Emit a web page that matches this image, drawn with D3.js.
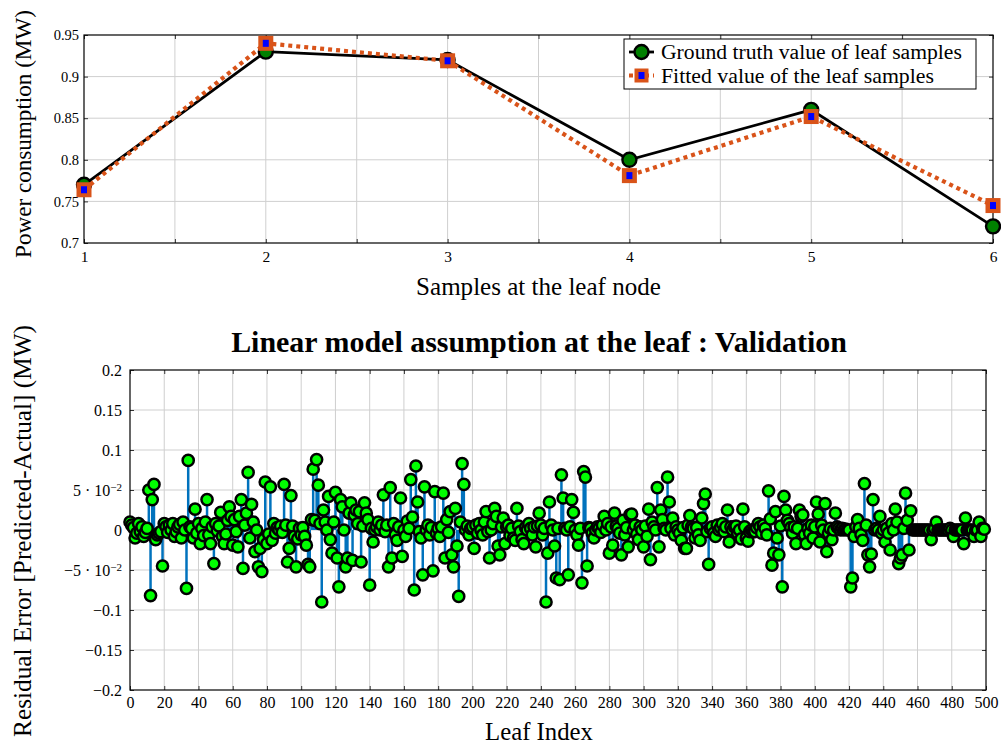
<!DOCTYPE html>
<html><head><meta charset="utf-8">
<script src="https://cdn.jsdelivr.net/npm/d3@7"></script>
<style>
body{margin:0;background:#fff}
svg{display:block}
text{font-family:"Liberation Serif","Times New Roman",serif;fill:#000}
</style>
</head><body><svg id="c" width="1001" height="746"></svg>
<script>
// ---------- data: top chart ----------
const samples = [1, 2, 3, 4, 5, 6];
const groundTruth = [0.770, 0.930, 0.920, 0.800, 0.860, 0.720];
const fitted = [0.764, 0.940, 0.919, 0.781, 0.852, 0.745];
const topXTicks = [1, 1.5, 2, 2.5, 3, 3.5, 4, 4.5, 5, 5.5, 6];
const topXLabels = ["1", "", "2", "", "3", "", "4", "", "5", "", "6"];
const topYTicks = [0.7, 0.75, 0.8, 0.85, 0.9, 0.95];
const topYLabels = ["0.7", "0.75", "0.8", "0.85", "0.9", "0.95"];
const legendLabels = ["Ground truth value of leaf samples", "Fitted value of the leaf samples"];

// ---------- data: bottom chart (residual per leaf index 0..499) ----------
const residuals = [
  0.010, 0.006, 0.003,-0.010,-0.004, 0.008,-0.002, 0.004,-0.008,-0.003,
  0.002, 0.050,-0.082, 0.038, 0.057,-0.012,-0.006,-0.004,-0.002,-0.045,
  0.008, 0.004,-0.003, 0.006, 0.000, 0.008,-0.008,-0.002, 0.004, 0.007,
 -0.010, 0.010, 0.000,-0.073, 0.087, 0.004, 0.002,-0.010, 0.026,-0.004,
  0.008,-0.017, 0.002,-0.007, 0.010, 0.038,-0.006,-0.017, 0.004,-0.042,
  0.008,-0.001, 0.005, 0.022,-0.008,-0.017,-0.005, 0.012, 0.029, 0.017,
 -0.019, 0.013,-0.002,-0.021, 0.017, 0.038,-0.048, 0.006, 0.021, 0.072,
 -0.010, 0.032, 0.010,-0.027, 0.000,-0.046,-0.023,-0.052,-0.012, 0.060,
 -0.017,-0.005, 0.054,-0.013, 0.008,-0.004, 0.003, 0.000, 0.005,-0.003,
  0.057, 0.006,-0.040,-0.023, 0.043, 0.005,-0.008,-0.046,-0.011, 0.002,
 -0.006, 0.003,-0.008,-0.019,-0.043,-0.046, 0.013, 0.076, 0.012, 0.088,
  0.056, 0.008,-0.090, 0.025, 0.010, 0.000, 0.042,-0.012,-0.029, 0.010,
  0.047,-0.035,-0.071, 0.038, 0.029, 0.000,-0.046,-0.035, 0.021, 0.034,
 -0.038, 0.019, 0.025, 0.008, 0.023,-0.040, 0.005, 0.034, 0.021, 0.013,
 -0.069, 0.002,-0.015, 0.000, 0.004, 0.010, 0.000, 0.006, 0.044,-0.002,
  0.006,-0.046, 0.053,-0.035, 0.008,-0.006,-0.013, 0.004, 0.040,-0.033,
  0.000,-0.008, 0.011, 0.002, 0.063, 0.016,-0.075, 0.080, 0.035,-0.002,
 -0.010,-0.056, 0.054, 0.000, 0.006,-0.006, 0.003,-0.051, 0.048,-0.004,
  0.002,-0.008, 0.004, 0.046,-0.035, 0.013,-0.003, 0.023,-0.031,-0.046,
  0.027,-0.020,-0.083, 0.010, 0.083, 0.057, 0.000, 0.005,-0.006, 0.002,
  0.004,-0.023, 0.006,-0.004, 0.008, 0.000,-0.006, 0.010, 0.023,-0.002,
 -0.035, 0.000, 0.008, 0.027, 0.017,-0.020,-0.031, 0.004, 0.015,-0.017,
  0.004, 0.006,-0.007, 0.002,-0.010,-0.013, 0.027, 0.005,-0.002,-0.012,
 -0.017, 0.003, 0.000, 0.008, 0.002,-0.006, 0.004,-0.021, 0.005, 0.021,
  0.006,-0.006, 0.002,-0.090,-0.029, 0.035, 0.006, 0.000,-0.020,-0.060,
  0.002,-0.062, 0.069, 0.040, 0.002, 0.000,-0.056, 0.004, 0.038, 0.022,
  0.000,-0.006,-0.019, 0.002,-0.066, 0.073, 0.066,-0.045, 0.003, 0.002,
 -0.004,-0.010, 0.000, 0.004, 0.002,-0.003, 0.006, 0.017, 0.000, 0.008,
 -0.029, 0.004,-0.019, 0.021, 0.005, 0.002,-0.004,-0.031, 0.012,-0.006,
  0.003,-0.021, 0.019, 0.020, 0.000, 0.006,-0.005,-0.012, 0.004, 0.000,
 -0.021, 0.005,-0.008, 0.026,-0.037, 0.010, 0.004, 0.000, 0.053,-0.021,
  0.025, 0.013, 0.002, 0.000, 0.066, 0.035, 0.002, 0.015,-0.006, 0.004,
  0.000,-0.004,-0.013, 0.003,-0.023,-0.023, 0.006, 0.018, 0.004, 0.002,
 -0.010, 0.003,-0.006,-0.013, 0.015, 0.033, 0.045,-0.002,-0.043, 0.002,
  0.004,-0.004,-0.008, 0.006, 0.000, 0.003, 0.008,-0.002, 0.004, 0.025,
 -0.015, 0.004, 0.000, 0.004, 0.005,-0.004, 0.000,-0.011, 0.026, 0.004,
 -0.010,-0.014,-0.002, 0.000,-0.002,-0.002, 0.003, 0.008, 0.004,-0.004,
  0.006, 0.002,-0.006, 0.049, 0.014,-0.044,-0.029, 0.023,-0.010,-0.031,
  0.005,-0.071, 0.042, 0.025, 0.012, 0.008, 0.003,-0.004, 0.004,-0.017,
  0.002, 0.025, 0.017, 0.019,-0.006,-0.017, 0.002,-0.004, 0.006,-0.010,
  0.004, 0.035, 0.020,-0.015, 0.006, 0.000, 0.033,-0.027,-0.004, 0.002,
 -0.012, 0.000, 0.021, 0.004, 0.002, 0.000, 0.002, 0.000, 0.001, 0.000,
  0.000,-0.071,-0.060,-0.008, 0.004, 0.013, 0.002,-0.006,-0.013, 0.058,
  0.006,-0.031,-0.046,-0.030, 0.038, 0.000, 0.002, 0.000, 0.017,-0.004,
  0.000,-0.015, 0.002,-0.004,-0.025, 0.008, 0.000, 0.026, 0.010,-0.042,
 -0.035,-0.031, 0.002, 0.046, 0.012,-0.025, 0.024, 0.000, 0.000, 0.000,
  0.000, 0.000, 0.000, 0.000, 0.000, 0.000, 0.000, 0.000,-0.012, 0.000,
  0.002, 0.010, 0.000, 0.000, 0.000, 0.000, 0.000, 0.000, 0.000, 0.002,
  0.000,-0.008, 0.000, 0.000, 0.000, 0.000, 0.000,-0.017, 0.015, 0.000,
  0.000, 0.000, 0.000,-0.008, 0.000, 0.000, 0.010,-0.008, 0.002, 0.001
];
const botXTicks = [0,20,40,60,80,100,120,140,160,180,200,220,240,260,280,300,320,340,360,380,400,420,440,460,480,500];
const botYTicks = [-0.2,-0.15,-0.1,-0.05,0,0.05,0.1,0.15,0.2];
const botYLabels = [["\u22120.2"],["\u22120.15"],["\u22120.1"],["\u22125 \u00b7 10","\u22122"],["0"],["5 \u00b7 10","\u22122"],["0.1"],["0.15"],["0.2"]];

const svg = d3.select("#c");
const GRID = "#cfcfcf";

function fitWidth(sel, w) {
  const n = sel.node();
  const cur = n.getComputedTextLength();
  const fs = parseFloat(sel.attr("font-size"));
  sel.attr("font-size", (fs * w / cur).toFixed(2));
}

function styleAxis(g, showText) {
  g.select(".domain").remove();
  g.selectAll(".tick line").attr("stroke", "#333").attr("stroke-width", 1);
  if (!showText) g.selectAll(".tick text").remove();
}

// ================= TOP CHART =================
(function(){
  const L = 84, R = 993, T = 35, B = 243;
  const x = d3.scaleLinear().domain([1, 6]).range([L, R]);
  const y = d3.scaleLinear().domain([0.7, 0.95]).range([B, T]);
  const g = svg.append("g");

  g.append("g").selectAll("line").data(topXTicks.slice(1, -1)).join("line")
    .attr("x1", d => x(d)).attr("x2", d => x(d)).attr("y1", T).attr("y2", B)
    .attr("stroke", GRID).attr("stroke-width", 1);
  g.append("g").selectAll("line").data(topYTicks.slice(1, -1)).join("line")
    .attr("y1", d => y(d)).attr("y2", d => y(d)).attr("x1", L).attr("x2", R)
    .attr("stroke", GRID).attr("stroke-width", 1);

  const ax = g.append("g").attr("transform", `translate(0,${B})`)
    .call(d3.axisBottom(x).tickValues(topXTicks).tickSizeInner(-4).tickSizeOuter(0).tickPadding(8)
      .tickFormat((d, i) => topXLabels[i]));
  styleAxis(ax, true);
  ax.selectAll("text").attr("font-size", 15.5).attr("font-family", "Liberation Serif");
  const axT = g.append("g").attr("transform", `translate(0,${T})`)
    .call(d3.axisTop(x).tickValues(topXTicks).tickSizeInner(-4).tickSizeOuter(0));
  styleAxis(axT, false);
  const ay = g.append("g").attr("transform", `translate(${L},0)`)
    .call(d3.axisLeft(y).tickValues(topYTicks).tickSizeInner(-4).tickSizeOuter(0).tickPadding(5)
      .tickFormat((d, i) => topYLabels[i]));
  styleAxis(ay, true);
  ay.selectAll("text").attr("font-size", 14.5).attr("font-family", "Liberation Serif");
  const ayR = g.append("g").attr("transform", `translate(${R},0)`)
    .call(d3.axisRight(y).tickValues(topYTicks).tickSizeInner(-4).tickSizeOuter(0));
  styleAxis(ayR, false);

  g.append("rect").attr("x", L).attr("y", T).attr("width", R - L).attr("height", B - T)
    .attr("fill", "none").attr("stroke", "#000").attr("stroke-width", 1.2);

  const line = d3.line().x((d, i) => x(samples[i])).y(d => y(d));
  g.append("path").datum(groundTruth).attr("d", line)
    .attr("fill", "none").attr("stroke", "#000").attr("stroke-width", 2.8);
  g.append("g").selectAll("circle").data(groundTruth).join("circle")
    .attr("cx", (d, i) => x(samples[i])).attr("cy", d => y(d)).attr("r", 7)
    .attr("fill", "#008000").attr("stroke", "#000").attr("stroke-width", 2.4);

  g.append("path").datum(fitted).attr("d", line)
    .attr("fill", "none").attr("stroke", "#D95319").attr("stroke-width", 4.2)
    .attr("stroke-dasharray", "4,4");
  const sq = g.append("g").selectAll("g").data(fitted).join("g")
    .attr("transform", (d, i) => `translate(${x(samples[i])},${y(d)})`);
  sq.append("rect").attr("x", -7.5).attr("y", -7.5).attr("width", 15).attr("height", 15).attr("fill", "#D95319");
  sq.append("rect").attr("x", -3).attr("y", -3.5).attr("width", 6).attr("height", 7).attr("fill", "#0000ff");

  // legend
  const lg = g.append("g");
  lg.append("rect").attr("x", 624).attr("y", 39).attr("width", 352).attr("height", 50)
    .attr("fill", "#fff").attr("stroke", "#000").attr("stroke-width", 1);
  lg.append("line").attr("x1", 629).attr("x2", 654).attr("y1", 52).attr("y2", 52)
    .attr("stroke", "#000").attr("stroke-width", 2.8);
  lg.append("circle").attr("cx", 641.5).attr("cy", 52).attr("r", 7)
    .attr("fill", "#008000").attr("stroke", "#000").attr("stroke-width", 2.4);
  lg.append("line").attr("x1", 629).attr("x2", 654).attr("y1", 75.5).attr("y2", 75.5)
    .attr("stroke", "#D95319").attr("stroke-width", 4.2).attr("stroke-dasharray", "4,4");
  lg.append("rect").attr("x", 634.5).attr("y", 68.5).attr("width", 14).attr("height", 14).attr("fill", "#D95319");
  lg.append("rect").attr("x", 638.5).attr("y", 72).attr("width", 6).attr("height", 7).attr("fill", "#0000ff");
  const t1 = lg.append("text").attr("x", 661).attr("y", 59).attr("font-size", 19.5).text(legendLabels[0]);
  fitWidth(t1, 301);
  const t2 = lg.append("text").attr("x", 661).attr("y", 82.5).attr("font-size", 19.5).text(legendLabels[1]);
  fitWidth(t2, 273);

  const xl = g.append("text").attr("x", 538.5).attr("y", 295).attr("text-anchor", "middle")
    .attr("font-size", 22).text("Samples at the leaf node");
  fitWidth(xl, 245);
  const yl = g.append("text").attr("transform", "translate(31,134) rotate(-90)").attr("text-anchor", "middle")
    .attr("font-size", 22).text("Power consumption (MW)");
  fitWidth(yl, 248);
})();

// ================= BOTTOM CHART =================
(function(){
  const L = 130, R = 986, T = 370, B = 690;
  const x = d3.scaleLinear().domain([0, 500]).range([L, R]);
  const y = d3.scaleLinear().domain([-0.2, 0.2]).range([B, T]);
  const g = svg.append("g");

  g.append("g").selectAll("line").data(botXTicks.slice(1, -1)).join("line")
    .attr("x1", d => x(d)).attr("x2", d => x(d)).attr("y1", T).attr("y2", B)
    .attr("stroke", GRID).attr("stroke-width", 1);
  g.append("g").selectAll("line").data(botYTicks.slice(1, -1)).join("line")
    .attr("y1", d => y(d)).attr("y2", d => y(d)).attr("x1", L).attr("x2", R)
    .attr("stroke", GRID).attr("stroke-width", 1);

  const ax = g.append("g").attr("transform", `translate(0,${B})`)
    .call(d3.axisBottom(x).tickValues(botXTicks).tickSizeInner(-4).tickSizeOuter(0).tickPadding(7)
      .tickFormat(d => String(d)));
  styleAxis(ax, true);
  ax.selectAll("text").attr("font-size", 16).attr("font-family", "Liberation Serif");
  const axT = g.append("g").attr("transform", `translate(0,${T})`)
    .call(d3.axisTop(x).tickValues(botXTicks).tickSizeInner(-4).tickSizeOuter(0));
  styleAxis(axT, false);
  const ay = g.append("g").attr("transform", `translate(${L},0)`)
    .call(d3.axisLeft(y).tickValues(botYTicks).tickSizeInner(-4).tickSizeOuter(0).tickPadding(8)
      .tickFormat(() => ""));
  styleAxis(ay, true);
  ay.selectAll(".tick text").each(function(d, i) {
    const t = d3.select(this).attr("font-size", 16).attr("font-family", "Liberation Serif");
    const parts = botYLabels[i];
    t.append("tspan").text(parts[0]);
    if (parts.length > 1) {
      t.append("tspan").attr("dy", "-0.45em").attr("font-size", 11).text(parts[1]);
    }
  });
  const ayR = g.append("g").attr("transform", `translate(${R},0)`)
    .call(d3.axisRight(y).tickValues(botYTicks).tickSizeInner(-4).tickSizeOuter(0));
  styleAxis(ayR, false);

  g.append("rect").attr("x", L).attr("y", T).attr("width", R - L).attr("height", B - T)
    .attr("fill", "none").attr("stroke", "#000").attr("stroke-width", 1.2);

  g.append("g").selectAll("line").data(residuals).join("line")
    .attr("x1", (d, i) => x(i)).attr("x2", (d, i) => x(i))
    .attr("y1", y(0)).attr("y2", d => y(d))
    .attr("stroke", "#0072BD").attr("stroke-width", 2.5);
  g.append("g").selectAll("circle").data(residuals).join("circle")
    .attr("cx", (d, i) => x(i)).attr("cy", d => y(d)).attr("r", 5.6)
    .attr("fill", "#00ff00").attr("stroke", "#000").attr("stroke-width", 2.5);

  const title = g.append("text").attr("x", 539).attr("y", 352).attr("text-anchor", "middle")
    .attr("font-size", 21).attr("font-weight", "bold")
    .text("Linear model assumption at the leaf : Validation");
  fitWidth(title, 616);
  const xl = g.append("text").attr("x", 539).attr("y", 740).attr("text-anchor", "middle")
    .attr("font-size", 22).text("Leaf Index");
  fitWidth(xl, 108);
  const yl = g.append("text").attr("transform", "translate(31,531) rotate(-90)").attr("text-anchor", "middle")
    .attr("font-size", 22).text("Residual Error [Predicted-Actual] (MW)");
  fitWidth(yl, 412);
})();
</script>
</body></html>
